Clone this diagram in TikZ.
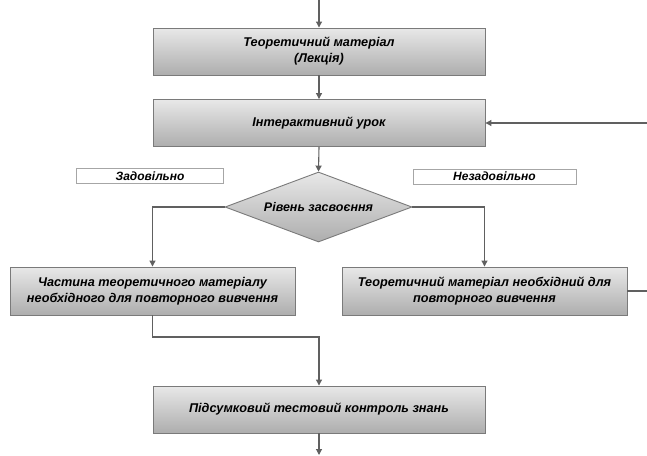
\documentclass[tikz,border=0pt]{standalone}
\usepackage{fontspec}
\setmainfont{Liberation Sans}
\usetikzlibrary{shapes.geometric,arrows.meta}
\definecolor{edge}{HTML}{7A7A7A}
\definecolor{wire}{HTML}{606060}
\tikzset{
  stepbox/.style={draw=edge, line width=0.9pt, top color=black!9, bottom color=black!32,
    minimum width=332pt, minimum height=47pt, inner sep=0pt, align=center,
    font=\fontsize{12.7}{16}\selectfont\bfseries\itshape},
  halfbox/.style={stepbox, minimum width=285pt, minimum height=48pt},
  decide/.style={diamond, draw=edge, line width=0.9pt, top color=black!9, bottom color=black!32,
    minimum width=187pt, minimum height=70pt, inner sep=0pt, aspect=2.67,
    font=\fontsize{12.5}{14}\selectfont\bfseries\itshape},
  tag/.style={draw=black!35, fill=white, line width=0.7pt, minimum width=147pt, minimum height=15pt,
    inner sep=0pt, font=\fontsize{12}{13}\selectfont\bfseries\itshape},
  link/.style={draw=wire, line width=1.1pt},
  arr/.style={link, -{Triangle[length=6pt,width=6pt]}},
}
\begin{document}
\begin{tikzpicture}[x=1pt,y=-1pt]
  \useasboundingbox (0,0) rectangle (647,455);
  \node[stepbox] (lec) at (319,51.5) {Теоретичний матеріал\\(Лекція)};
  \node[stepbox] (lesson) at (319,123) {Інтерактивний урок};
  \node[decide] (level) at (318.5,207) {Рівень засвоєння};
  \node[tag] (ok) at (150,176) {Задовільно};
  \node[tag, minimum width=163pt] (notok) at (494.5,176.5) {Незадовільно};
  \node[halfbox] (part) at (152.5,291) {Частина теоретичного матеріалу\\необхідного для повторного вивчення};
  \node[halfbox] (full) at (484.5,291) {Теоретичний матеріал необхідний для\\повторного вивчення};
  \node[stepbox] (test) at (319,409.5) {Підсумковий тестовий контроль знань};

  \coordinate (entry) at (319,0);
  \coordinate (exit) at (319,455);
  \coordinate (loopin) at (647,123);
  \coordinate (loopout) at (647,291);

  \draw[arr] (entry) -- (lec.north);
  \draw[arr] (lec.south) -- (lesson.north);
  \draw[arr] (lesson.south) -- (level.north);
  \draw[arr] (level.west) -| (part.north);
  \draw[arr] (level.east) -| (full.north);
  \draw[arr] (part.south) |- (319,337) -- (test.north);
  \draw[arr] (test.south) -- (exit);
  \draw[link] (full.east) -- (loopout);
  \draw[arr] (loopin) -- (lesson.east);
\end{tikzpicture}
\end{document}
